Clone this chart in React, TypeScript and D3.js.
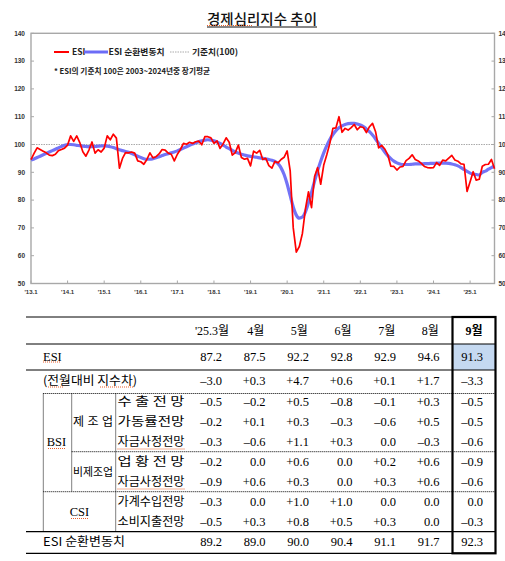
import React from "react";
import * as d3 from "d3";

// ESI monthly, Jan 2013 – Sep 2025
const esiValues: number[] = [
  94.6, 96.8, 98.8, 98.2, 97.6, 97.0, 96.2, 96.0, 96.5, 97.8, 98.2, 98.7,
  99.8, 103.1, 101.1, 103.1, 100.7, 97.4, 95.8, 98.0, 100.9, 96.9, 98.1, 97.3,
  98.7, 103.1, 101.7, 103.7, 102.3, 91.5, 95.0, 97.1, 97.0, 97.3, 96.9, 94.1,
  93.8, 92.9, 94.6, 97.0, 95.2, 95.6, 96.6, 98.2, 98.0, 96.9, 96.5, 94.1,
  96.5, 98.2, 100.4, 100.1, 100.8, 100.4, 101.0, 101.2, 99.9, 102.8, 102.8, 102.4,
  100.4, 101.3, 98.6, 100.2, 102.4, 100.8, 96.2, 97.1, 99.8, 95.3, 94.7, 95.0,
  92.3, 97.6, 96.9, 97.9, 94.6, 95.0, 92.4, 91.5, 93.9, 93.4, 94.6, 95.4,
  97.7, 90.5, 70.0, 61.3, 63.3, 68.0, 76.8, 83.0, 77.3, 88.5, 91.7, 85.7,
  92.6, 96.3, 100.4, 105.8, 106.0, 110.0, 104.4, 105.8, 105.2, 106.1, 107.2, 105.3,
  106.4, 106.1, 104.3, 106.4, 107.6, 104.6, 98.8, 99.7, 98.4, 96.3, 92.2, 92.1,
  90.8, 91.9, 92.1, 94.2, 95.0, 96.3, 94.6, 94.1, 93.2, 92.1, 91.7, 91.6,
  91.7, 93.5, 92.5, 94.4, 94.1, 95.1, 96.1, 94.4, 94.0, 93.0, 92.9, 83.1,
  86.6, 90.2, 87.2, 87.5, 92.2, 92.8, 92.9, 94.6, 91.3,
];

// ESI cyclical component, Jan 2013 – Sep 2025
const esiCycle: number[] = [
  94.4, 94.8, 95.3, 95.8, 96.3, 96.8, 97.3, 97.8, 98.3, 98.8, 99.3, 99.7,
  100.0, 100.0, 99.9, 99.7, 99.6, 99.4, 99.3, 99.2, 99.2, 99.3, 99.4, 99.5,
  99.5, 99.4, 99.2, 98.9, 98.5, 98.1, 97.8, 97.5, 97.2, 96.8, 96.3, 95.8,
  95.3, 94.9, 94.7, 94.7, 94.9, 95.2, 95.6, 96.0, 96.4, 96.7, 97.0, 97.3,
  97.7, 98.2, 98.7, 99.2, 99.7, 100.2, 100.6, 101.0, 101.3, 101.6, 101.7, 101.6,
  101.3, 100.9, 100.4, 99.8, 99.1, 98.5, 97.9, 97.3, 96.9, 96.5, 96.2, 95.9,
  95.7, 95.6, 95.4, 95.2, 95.0, 94.8, 94.6, 94.3, 93.9, 93.1, 91.6, 89.2,
  85.8, 81.6, 77.5, 74.6, 73.5, 73.9, 75.8, 79.0, 82.8, 86.8, 90.6, 94.0,
  97.0, 99.6, 101.8, 103.6, 105.0, 106.0, 106.7, 107.2, 107.5, 107.6, 107.6, 107.4,
  107.0, 106.4, 105.6, 104.6, 103.4, 102.0, 100.4, 98.8, 97.3, 96.0, 94.9, 94.0,
  93.4, 93.0, 92.8, 92.8, 92.8, 92.9, 93.0, 93.0, 93.0, 93.1, 93.1, 93.2,
  93.2, 93.3, 93.3, 93.3, 93.3, 93.2, 93.0, 92.7, 92.3, 91.7, 91.0, 90.3,
  89.7, 89.3, 89.2, 89.0, 90.0, 90.4, 91.1, 91.7, 92.3,
];

const yTicks = [50, 60, 70, 80, 90, 100, 110, 120, 130, 140];
const xTickLabels = ["'13.1", "'14.1", "'15.1", "'16.1", "'17.1", "'18.1", "'19.1", "'20.1", "'21.1", "'22.1", "'23.1", "'24.1", "'25.1"];
const baseline = 100;

// Table
const tableMonths = ["'25.3월", "4월", "5월", "6월", "7월", "8월", "9월"];
const rowEsi = ["87.2", "87.5", "92.2", "92.8", "92.9", "94.6", "91.3"];
const rowMom = ["–3.0", "+0.3", "+4.7", "+0.6", "+0.1", "+1.7", "–3.3"];
const rowExport = ["–0.5", "–0.2", "+0.5", "–0.8", "–0.1", "+0.3", "–0.5"];
const rowOperation = ["–0.2", "+0.1", "+0.3", "–0.3", "–0.6", "+0.5", "–0.5"];
const rowMfgFund = ["–0.3", "–0.6", "+1.1", "+0.3", "0.0", "–0.3", "–0.6"];
const rowBusiness = ["–0.2", "0.0", "+0.6", "0.0", "+0.2", "+0.6", "–0.9"];
const rowNonMfgFund = ["–0.9", "+0.6", "+0.3", "0.0", "+0.3", "+0.6", "–0.6"];
const rowIncome = ["–0.3", "0.0", "+1.0", "+1.0", "0.0", "0.0", "0.0"];
const rowSpending = ["–0.5", "+0.3", "+0.8", "+0.5", "+0.3", "0.0", "–0.3"];
const rowCycle = ["89.2", "89.0", "90.0", "90.4", "91.1", "91.7", "92.3"];

const subLabels = ["수 출 전 망", "가동률전망", "자금사정전망", "업 황 전 망", "자금사정전망", "가계수입전망", "소비지출전망"];
const subRows = [rowExport, rowOperation, rowMfgFund, rowBusiness, rowNonMfgFund, rowIncome, rowSpending];

const W = 505;
const H = 561;

const x = d3.scaleLinear().domain([0, 152]).range([31, 494.5]);
const y = d3.scaleLinear().domain([50, 140]).range([283.5, 33.3]);

const redPath = d3.line<number>().x((_, i) => x(i)).y((d) => y(d))(esiValues) || "";
const bluePath = d3.line<number>().x((_, i) => x(i)).y((d) => y(d)).curve(d3.curveMonotoneX)(esiCycle) || "";

const sans = "'Noto Sans CJK KR', 'Noto Sans', sans-serif";
const tickFont = "'Liberation Sans', Arial, sans-serif";
const serif = "'Liberation Serif', 'Noto Sans CJK KR', serif";

// column right edges for numbers, header centers
const colRight = d3.scalePoint<number>().domain(d3.range(7)).range([222, 483]);
const colCenter = d3.scalePoint<number>().domain(d3.range(7)).range([212, 474]);

const Squiggle = ({ x1, x2, yy }: { x1: number; x2: number; yy: number }) => (
  <line x1={x1} x2={x2} y1={yy} y2={yy} stroke="#e8602c" strokeWidth={1} strokeDasharray="1,1" />
);

export default function App() {
  const rowY = (k: number) => 402 + k * 20;
  return (
    <svg
      width={W}
      height={H}
      viewBox={`0 0 ${W} ${H}`}
      style={{ position: "absolute", left: 0, top: 0, background: "#fff" }}
    >
      <rect width={W} height={H} fill="#fff" />
      {/* Title */}
      <text x={262} y={24} textAnchor="middle" fontFamily={sans} fontSize={14} fontWeight={500} fill="#111" textLength={110} lengthAdjust="spacingAndGlyphs">
        경제심리지수 추이
      </text>
      <line x1={207} x2={317} y1={27} y2={27} stroke="#111" strokeWidth={1.2} />
      <Squiggle x1={207} x2={252} yy={25.5} />

      {/* Gridline 100 */}
      <line x1={x(0)} x2={x(152)} y1={y(baseline)} y2={y(baseline)} stroke="#aaa" strokeWidth={1} strokeDasharray="1.5,1" />

      {/* Frame */}
      <rect x={31} y={33.3} width={494.5 - 31} height={283.5 - 33.3} fill="none" stroke="#a8a8a8" strokeWidth={1.4} />

      {/* Y ticks */}
      {yTicks.map((t) => (
        <g key={t}>
          <line x1={31} x2={34} y1={y(t)} y2={y(t)} stroke="#a8a8a8" strokeWidth={1} />
          <line x1={491.5} x2={494.5} y1={y(t)} y2={y(t)} stroke="#a8a8a8" strokeWidth={1} />
          <text x={25} y={y(t) + 2.2} textAnchor="end" fontFamily={tickFont} fontSize={6.5} fontWeight={700} fill="#333">
            {t}
          </text>
          <text x={498.5} y={y(t) + 2.2} textAnchor="start" fontFamily={tickFont} fontSize={6.5} fontWeight={700} fill="#333">
            {t}
          </text>
        </g>
      ))}

      {/* X ticks */}
      {xTickLabels.map((lab, i) => (
        <g key={lab}>
          <line x1={x(i * 12)} x2={x(i * 12)} y1={283.5} y2={280.5} stroke="#a8a8a8" strokeWidth={1} />
          <text x={x(i * 12)} y={294} textAnchor="middle" fontFamily={tickFont} fontSize={6} fontWeight={700} fill="#333">
            {lab}
          </text>
        </g>
      ))}

      {/* Series */}
      <path d={bluePath} fill="none" stroke="#6c6cf6" strokeWidth={3.2} strokeLinejoin="round" opacity={0.95} />
      <path d={redPath} fill="none" stroke="#ff0000" strokeWidth={1.7} strokeLinejoin="round" />

      {/* Legend */}
      <line x1={54} x2={69} y1={52} y2={52} stroke="#ff0000" strokeWidth={2} />
      <text x={72} y={55} fontFamily={sans} fontSize={8.5} fontWeight={700} fill="#222">ESI</text>
      <line x1={84} x2={108} y1={52} y2={52} stroke="#6c6cf6" strokeWidth={3} />
      <text x={108.5} y={55} fontFamily={sans} fontSize={8.5} fontWeight={700} fill="#222" textLength={56} lengthAdjust="spacingAndGlyphs">ESI 순환변동치</text>
      <line x1={170} x2={190} y1={52} y2={52} stroke="#aaa" strokeWidth={1} strokeDasharray="1.5,1" />
      <text x={192} y={55} fontFamily={sans} fontSize={8.5} fontWeight={700} fill="#222" textLength={46} lengthAdjust="spacingAndGlyphs">기준치(100)</text>
      <text x={54} y={74} fontFamily={sans} fontSize={7.8} fontWeight={700} fill="#222" textLength={156} lengthAdjust="spacingAndGlyphs">* ESI의 기준치 100은 2003~2024년중 장기평균</text>

      {/* ===== Table ===== */}
      <rect x={452} y={344} width={44} height={26} fill="#c5d9f1" />
      {/* horizontal lines */}
      <line x1={26} x2={496} y1={317} y2={317} stroke="#000" strokeWidth={1} />
      <line x1={26} x2={496} y1={344} y2={344} stroke="#000" strokeWidth={1} />
      <line x1={26} x2={496} y1={370} y2={370} stroke="#000" strokeWidth={1} />
      <line x1={43.3} x2={496} y1={393.5} y2={393.5} stroke="#000" strokeWidth={1} strokeDasharray="1,1" />
      <line x1={71.7} x2={496} y1={451.7} y2={451.7} stroke="#000" strokeWidth={1} strokeDasharray="1,1" />
      <line x1={43.3} x2={496} y1={491.7} y2={491.7} stroke="#000" strokeWidth={1} strokeDasharray="1,1" />
      <line x1={26} x2={496} y1={531.7} y2={531.7} stroke="#000" strokeWidth={1.3} />
      <line x1={26} x2={496} y1={553.3} y2={553.3} stroke="#000" strokeWidth={1.3} />
      {/* vertical lines */}
      <line x1={43.3} x2={43.3} y1={393.5} y2={531.7} stroke="#000" strokeWidth={1} strokeDasharray="1,1" />
      <line x1={71.7} x2={71.7} y1={393.5} y2={491.7} stroke="#000" strokeWidth={1} strokeDasharray="1,1" />
      <line x1={115.7} x2={115.7} y1={393.5} y2={531.7} stroke="#000" strokeWidth={1} strokeDasharray="1,1" />
      {/* highlighted column */}
      <rect x={452.5} y={317} width={43} height={236.3} fill="none" stroke="#000" strokeWidth={2.2} />

      {/* header */}
      {tableMonths.map((m, i) => (
        <text key={m} x={colCenter(i)} y={331} dy="0.35em" textAnchor="middle" fontFamily={serif} fontSize={12} fontWeight={i === 6 ? 700 : 400} fill="#000">
          {m}
        </text>
      ))}

      {/* ESI row */}
      <text x={43} y={357} dy="0.35em" fontFamily={serif} fontSize={12.5} fill="#000">ESI</text>
      <Squiggle x1={43} x2={60} yy={362} />
      {rowEsi.map((v, i) => (
        <text key={i} x={colRight(i)} y={357} dy="0.35em" textAnchor="end" fontFamily={serif} fontSize={12.5} fill="#000">{v}</text>
      ))}

      {/* MoM row */}
      <text x={43} y={381} dy="0.35em" fontFamily={sans} fontSize={12} fill="#000" textLength={94} lengthAdjust="spacingAndGlyphs">(전월대비 지수차)</text>
      <Squiggle x1={48} x2={64} yy={387} />
      <Squiggle x1={100} x2={133} yy={387} />
      {rowMom.map((v, i) => (
        <text key={i} x={colRight(i)} y={381} dy="0.35em" textAnchor="end" fontFamily={serif} fontSize={12.5} fill="#000">{v}</text>
      ))}

      {/* group labels */}
      <text x={56.5} y={442} dy="0.35em" textAnchor="middle" fontFamily={serif} fontSize={12.5} fill="#000">BSI</text>
      <Squiggle x1={48} x2={65} yy={448.5} />
      <text x={73} y={422} dy="0.35em" fontFamily={sans} fontSize={12} fill="#000" textLength={40} lengthAdjust="spacing">제조업</text>
      <text x={73} y={472} dy="0.35em" fontFamily={sans} fontSize={11} fill="#000" textLength={40} lengthAdjust="spacingAndGlyphs">비제조업</text>
      <text x={79.5} y={512} dy="0.35em" textAnchor="middle" fontFamily={serif} fontSize={12.5} fill="#000">CSI</text>
      <Squiggle x1={71} x2={88} yy={518.5} />

      {/* sub rows */}
      {subLabels.map((lab, k) => (
        <g key={k}>
          <text x={117.5} y={rowY(k)} dy="0.35em" fontFamily={sans} fontSize={12} fill="#000" textLength={67} lengthAdjust="spacingAndGlyphs">
            {lab}
          </text>
          {lab === "자금사정전망" && <Squiggle x1={117.5} x2={184.5} yy={rowY(k) + 7} />}
          {subRows[k].map((v, i) => (
            <text key={i} x={colRight(i)} y={rowY(k)} dy="0.35em" textAnchor="end" fontFamily={serif} fontSize={12.5} fill="#000">{v}</text>
          ))}
        </g>
      ))}

      {/* cycle row */}
      <text x={43} y={542} dy="0.35em" fontFamily={sans} fontSize={12} fill="#000" textLength={82} lengthAdjust="spacingAndGlyphs">ESI 순환변동치</text>
      {rowCycle.map((v, i) => (
        <text key={i} x={colRight(i)} y={542} dy="0.35em" textAnchor="end" fontFamily={serif} fontSize={12.5} fill="#000">{v}</text>
      ))}
    </svg>
  );
}
